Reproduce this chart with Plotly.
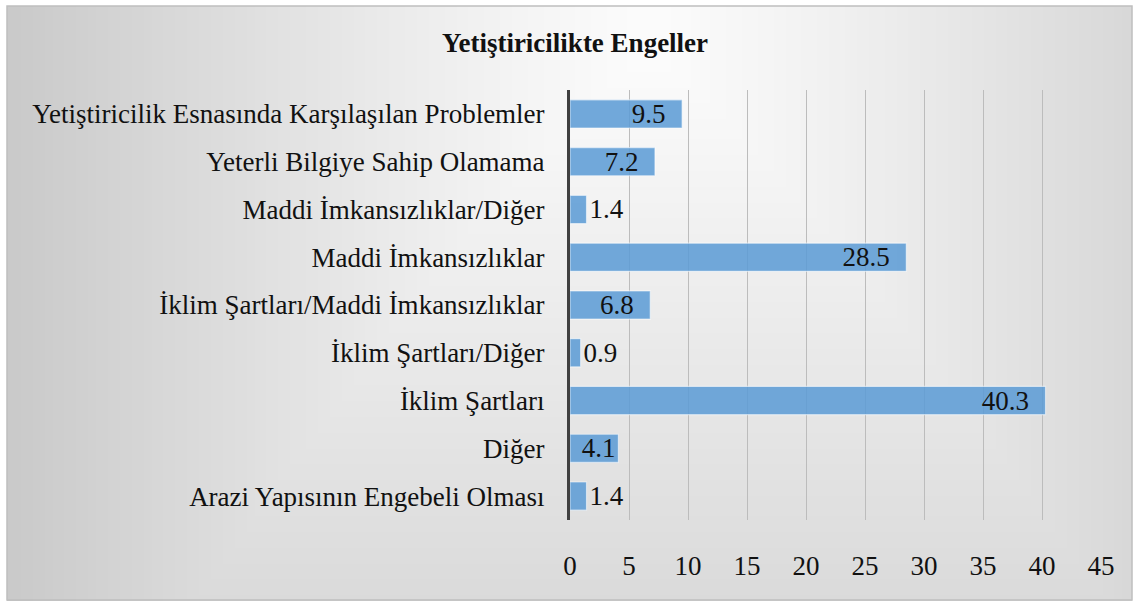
import zlib
import struct
import base64
import numpy as np
import plotly.graph_objects as go

categories = [
    "Arazi Yapısının Engebeli Olması",
    "Diğer",
    "İklim Şartları",
    "İklim Şartları/Diğer",
    "İklim Şartları/Maddi İmkansızlıklar",
    "Maddi İmkansızlıklar",
    "Maddi İmkansızlıklar/Diğer",
    "Yeterli Bilgiye Sahip Olamama",
    "Yetiştiricilik Esnasında Karşılaşılan Problemler",
]
values = [1.4, 4.1, 40.3, 0.9, 6.8, 28.5, 1.4, 7.2, 9.5]
x_ticks = [0, 5, 10, 15, 20, 25, 30, 35, 40, 45]

W, H = 1137, 601
FONT = "Liberation Serif"
FS = 27


def png_uri(arr):
    h, w = arr.shape
    raw = b"".join(b"\x00" + arr[i].tobytes() for i in range(h))

    def chunk(tag, data):
        c = struct.pack(">I", len(data)) + tag + data
        return c + struct.pack(">I", zlib.crc32(tag + data) & 0xffffffff)

    png = b"\x89PNG\r\n\x1a\n"
    png += chunk(b"IHDR", struct.pack(">IIBBBBB", w, h, 8, 0, 0, 0, 0))
    png += chunk(b"IDAT", zlib.compress(raw, 9))
    png += chunk(b"IEND", b"")
    return "data:image/png;base64," + base64.b64encode(png).decode()


# soft grey "path" gradient behind the chart, light near the top centre
gw, gh = 284, 150
gx, gy = np.meshgrid(np.linspace(0, W, gw), np.linspace(0, H, gh))
hx = (np.abs(gx - 650) / 650) ** 1.2
vy = np.clip((gy - 50) / 550, 0, None)
bg = 252 - np.maximum(50 * hx, 33 * vy)
bg_img = png_uri(np.clip(bg, 0, 255).astype(np.uint8))

labels = []
positions = []
for v in values:
    if v < 2:
        labels.append(f"{v}")
        positions.append("outside")
    elif v < 5:
        labels.append(f"{v}")
        positions.append("inside")
    else:
        labels.append(f"{v}\u00a0\u00a0")
        positions.append("inside")

fig = go.Figure()
fig.add_trace(go.Bar(
    y=categories,
    x=values,
    orientation="h",
    text=labels,
    textposition=positions,
    insidetextanchor="end",
    constraintext="none",
    cliponaxis=False,
    textfont=dict(family=FONT, size=FS, color="#111111"),
    marker=dict(color="rgba(91,155,213,0.86)",
                line=dict(color="rgba(255,255,255,0.55)", width=1.2)),
    hoverinfo="skip",
))

fig.update_layout(
    width=W, height=H,
    margin=dict(l=570, r=36, t=90, b=81),
    paper_bgcolor="white",
    plot_bgcolor="rgba(0,0,0,0)",
    bargap=0.41,
    showlegend=False,
    font=dict(family=FONT, color="#111111"),
    title=dict(text="<b>Yetiştiricilikte Engeller</b>",
               x=575 / W, xanchor="center", y=1 - 43 / H, yanchor="middle",
               font=dict(family=FONT, size=FS, color="#111111")),
    images=[dict(source=bg_img, xref="paper", yref="paper",
                 x=-563 / 531, y=1 + 84 / 430,
                 sizex=1125 / 531, sizey=(H - 6) / 430,
                 xanchor="left", yanchor="top",
                 sizing="stretch", layer="below")],
    shapes=[dict(type="rect", xref="paper", yref="paper",
                 x0=-563 / 531, x1=562 / 531, y0=-80 / 430, y1=1 + 84 / 430,
                 line=dict(color="#bfbfbf", width=1.5), layer="below")],
)

fig.update_xaxes(
    range=[0, 45],
    tickvals=x_ticks,
    showgrid=True, gridcolor="#bcbcbc", gridwidth=1,
    zeroline=False, showline=False,
    ticks="", ticklabelstandoff=27,
    tickfont=dict(family=FONT, size=FS, color="#111111"),
)
fig.update_yaxes(
    categoryorder="array", categoryarray=categories,
    showgrid=False, zeroline=False,
    showline=True, linecolor="#404040", linewidth=3,
    ticks="", ticklabelstandoff=17,
    tickfont=dict(family=FONT, size=FS, color="#111111"),
)

fig.write_html("out.html", config={"displayModeBar": False},
               post_script="document.body.style.margin='0';")
